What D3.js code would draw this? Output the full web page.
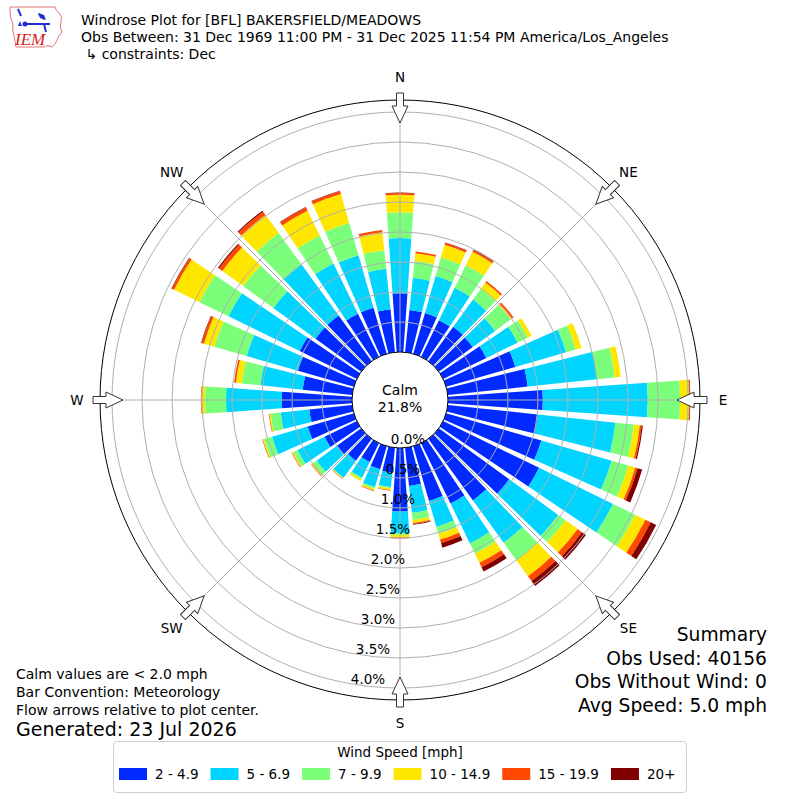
<!DOCTYPE html>
<html>
<head>
<meta charset="utf-8">
<script src="https://cdn.jsdelivr.net/npm/d3@7"></script>
<style>
  body { margin: 0; background: #fff; }
  text { font-family: "DejaVu Sans", sans-serif; fill: #000; }
</style>
</head>
<body>
<svg id="chart" width="800" height="800"></svg>
<script>
// direcciones (grados) y clases de velocidad
var directions = [0, 10, 20, 30, 40, 50, 60, 70, 80, 90, 100, 110, 120, 130, 140, 150, 160, 170,
                  180, 190, 200, 210, 220, 230, 240, 250, 260, 270, 280, 290, 300, 310, 320, 330, 340, 350];
var speedBins = ["2 - 4.9", "5 - 6.9", "7 - 9.9", "10 - 14.9", "15 - 19.9", "20+"];
var binColors = ["#002aff", "#00d4ff", "#7bff7b", "#ffe600", "#ff4800", "#800000"];

// frecuencia (%) por direccion para cada clase
var bin_2_5   = [0.98, 0.71, 0.71, 0.68, 0.71, 0.70, 0.80, 1.20, 1.34, 1.58, 1.51, 1.65, 1.78, 1.45, 1.27, 1.12, 0.95, 0.64,
                 1.06, 0.42, 0.40, 0.35, 0.45, 0.50, 0.60, 0.80, 0.72, 1.17, 0.83, 0.97, 1.06, 0.94, 0.94, 0.80, 0.80, 0.72];
var bin_5_7   = [0.92, 0.54, 0.64, 0.60, 0.56, 0.46, 0.58, 0.88, 1.16, 1.75, 1.30, 1.22, 1.37, 1.01, 0.87, 0.74, 0.45, 0.45,
                 0.36, 0.24, 0.31, 0.29, 0.35, 0.42, 0.50, 0.62, 0.48, 0.93, 0.71, 0.89, 1.32, 0.87, 1.05, 0.93, 0.91, 0.68];
var bin_7_10  = [0.43, 0.28, 0.32, 0.42, 0.22, 0.32, 0.19, 0.17, 0.30, 0.54, 0.31, 0.29, 0.41, 0.15, 0.36, 0.19, 0.12, 0.12,
                 0.03, 0.02, 0.03, 0.03, 0.01, 0.08, 0.08, 0.14, 0.17, 0.35, 0.31, 0.56, 0.54, 0.62, 0.65, 0.52, 0.56, 0.31];
var bin_10_15 = [0.29, 0.13, 0.22, 0.25, 0.13, 0.03, 0.07, 0.10, 0.10, 0.15, 0.10, 0.12, 0.19, 0.25, 0.33, 0.17, 0.10, 0.05,
                 0.04, 0.03, 0.03, 0.03, 0.01, 0.02, 0.02, 0.02, 0.02, 0.06, 0.10, 0.18, 0.47, 0.43, 0.37, 0.46, 0.50, 0.30];
var bin_15_20 = [0.03, 0.03, 0.03, 0.03, 0.03, 0.03, 0.00, 0.00, 0.00, 0.01, 0.03, 0.04, 0.10, 0.09, 0.10, 0.08, 0.06, 0.02,
                 0.02, 0.01, 0.01, 0.00, 0.01, 0.01, 0.01, 0.01, 0.01, 0.01, 0.03, 0.04, 0.04, 0.07, 0.07, 0.06, 0.05, 0.04];
var bin_20    = [0.01, 0.00, 0.01, 0.01, 0.00, 0.00, 0.00, 0.00, 0.00, 0.01, 0.02, 0.08, 0.10, 0.08, 0.10, 0.08, 0.08, 0.01,
                 0.00, 0.00, 0.00, 0.00, 0.00, 0.00, 0.00, 0.00, 0.00, 0.00, 0.00, 0.01, 0.01, 0.02, 0.02, 0.01, 0.01, 0.00];

var ringTicks = [0.0, 0.5, 1.0, 1.5, 2.0, 2.5, 3.0, 3.5, 4.0];
var calmPct = 21.8;
var compassLabels = ["N", "NE", "E", "SE", "S", "SW", "W", "NW"];
var compassAngles = [0, 45, 90, 135, 180, 225, 270, 315];

var titleLines = ["Windrose Plot for [BFL] BAKERSFIELD/MEADOWS",
                  "Obs Between: 31 Dec 1969 11:00 PM - 31 Dec 2025 11:54 PM America/Los_Angeles",
                  " \u21b3 constraints: Dec"];
var notes = ["Calm values are < 2.0 mph", "Bar Convention: Meteorology", "Flow arrows relative to plot center."];
var generated = "Generated: 23 Jul 2026";
var summary = ["Summary", "Obs Used: 40156", "Obs Without Wind: 0", "Avg Speed: 5.0 mph"];

var svg = d3.select("#chart");
var cx = 400, cy = 400;
var rad = Math.PI / 180;

// escala radial: 0 % en el borde del circulo de calma
var rScale = d3.scaleLinear().domain([0, 4.2]).range([48, 300]);

var rows = directions.map(function (d, i) {
  return { dir: d, b0: bin_2_5[i], b1: bin_5_7[i], b2: bin_7_10[i], b3: bin_10_15[i], b4: bin_15_20[i], b5: bin_20[i] };
});
var keys = ["b0", "b1", "b2", "b3", "b4", "b5"];
var stacked = d3.stack().keys(keys)(rows);

var plot = svg.append("g").attr("transform", "translate(" + cx + "," + cy + ")");

var arc = d3.arc();
var halfWidth = 4; // grados

stacked.forEach(function (layer, li) {
  plot.append("g").selectAll("path")
    .data(layer)
    .enter().append("path")
      .attr("d", function (d) {
        return arc({
          innerRadius: rScale(d[0]),
          outerRadius: rScale(d[1]),
          startAngle: (d.data.dir - halfWidth) * rad,
          endAngle: (d.data.dir + halfWidth) * rad
        });
      })
      .attr("fill", binColors[li]);
});

// rejilla
var grid = plot.append("g").attr("fill", "none").attr("stroke", "#b0b0b0").attr("stroke-width", 1);
grid.selectAll("circle")
  .data(ringTicks.filter(function (t) { return t > 0; }))
  .enter().append("circle")
    .attr("r", function (d) { return rScale(d); });
grid.selectAll("line")
  .data(compassAngles)
  .enter().append("line")
    .attr("x1", function (a) { return rScale(0) * Math.sin(a * rad); })
    .attr("y1", function (a) { return -rScale(0) * Math.cos(a * rad); })
    .attr("x2", function (a) { return rScale(4.2) * Math.sin(a * rad); })
    .attr("y2", function (a) { return -rScale(4.2) * Math.cos(a * rad); });

// borde exterior
plot.append("circle").attr("r", rScale(4.2)).attr("fill", "none").attr("stroke", "#000").attr("stroke-width", 1);

// circulo de calma
plot.append("circle").attr("r", rScale(0)).attr("fill", "#fff").attr("stroke", "#000").attr("stroke-width", 1);
plot.append("text").attr("x", 0).attr("y", -10).attr("text-anchor", "middle").attr("dominant-baseline", "central")
  .style("font-size", "14px").text("Calm");
plot.append("text").attr("x", 0).attr("y", 7).attr("text-anchor", "middle").attr("dominant-baseline", "central")
  .style("font-size", "14px").text(calmPct.toFixed(1) + "%");

// etiquetas de los anillos
plot.append("g").selectAll("text")
  .data(ringTicks)
  .enter().append("text")
    .attr("x", function (d) { return 8 - (rScale(d) - rScale(0)) / 6; })
    .attr("y", function (d) { return rScale(d) - 9; })
    .attr("text-anchor", "middle")
    .attr("dominant-baseline", "central")
    .style("font-size", "13.5px")
    .text(function (d) { return d.toFixed(1) + "%"; });

// flechas de flujo
var arrowPts = [[277, 0], [294, -8], [294, -3.5], [307, -3.5], [307, 3.5], [294, 3.5], [294, 8]];
plot.append("g").selectAll("path")
  .data(compassAngles)
  .enter().append("path")
    .attr("d", "M" + arrowPts.map(function (p) { return p.join(","); }).join("L") + "Z")
    .attr("transform", function (a) { return "rotate(" + (a - 90) + ")"; })
    .attr("fill", "#fff")
    .attr("stroke", "#333")
    .attr("stroke-width", 1);

// etiquetas cardinales
plot.append("g").selectAll("text")
  .data(compassAngles)
  .enter().append("text")
    .attr("x", function (a) { return 323 * Math.sin(a * rad); })
    .attr("y", function (a) { return -323 * Math.cos(a * rad); })
    .attr("text-anchor", "middle")
    .attr("dominant-baseline", "central")
    .style("font-size", "13.5px")
    .text(function (a, i) { return compassLabels[i]; });

// titulo
svg.append("g").selectAll("text")
  .data(titleLines)
  .enter().append("text")
    .attr("x", 81)
    .attr("y", function (d, i) { return 25 + i * 17; })
    .style("font-size", "14px")
    .style("white-space", "pre")
    .text(function (d) { return d; });

// logo IEM
var logo = svg.append("g");
logo.append("path")
  .attr("d", "M10,7 L55,7 Q56,11 59,13 Q63,17 61,22 Q59,27 62,32 Q58,36 57,40 Q56,44 52,47 Q48,44 44,47 L16,47 Q15,41 14,36 Q12,30 13,24 Q10,18 10,12 Z")
  .attr("fill", "none").attr("stroke", "#e57373").attr("stroke-width", 1);
logo.append("path")
  .attr("d", "M25,24 L50,24 M18,9 L21,16 M39,14 L44,19 M44,24 L46,32")
  .attr("fill", "none").attr("stroke", "#1f2fd0").attr("stroke-width", 2);
logo.append("path").attr("d", "M38,13 L44,15 L46,20 L40,18 Z").attr("fill", "#1f2fd0");
logo.append("path").attr("d", "M18,26 L20,21 L22,26 Z").attr("fill", "#1f2fd0");
logo.append("circle").attr("cx", 25).attr("cy", 24).attr("r", 2.5).attr("fill", "#1f2fd0");
logo.append("text").attr("x", 15).attr("y", 45)
  .style("font-family", "'Liberation Serif', serif").style("font-style", "italic")
  .style("font-size", "17px").style("fill", "#d62020").text("IEM");

// notas inferiores
svg.append("g").selectAll("text")
  .data(notes)
  .enter().append("text")
    .attr("x", 16)
    .attr("y", function (d, i) { return 679 + i * 18; })
    .style("font-size", "14px")
    .text(function (d) { return d; });
svg.append("text").attr("x", 16).attr("y", 736).style("font-size", "19px").text(generated);

// resumen
svg.append("g").selectAll("text")
  .data(summary)
  .enter().append("text")
    .attr("x", 767)
    .attr("y", function (d, i) { return 641 + i * 23.5; })
    .attr("text-anchor", "end")
    .style("font-size", "18.7px")
    .text(function (d) { return d; });

// leyenda
var legend = svg.append("g");
legend.append("rect").attr("x", 113.5).attr("y", 741.5).attr("width", 573).attr("height", 51).attr("rx", 3)
  .attr("fill", "#fff").attr("stroke", "#d0d0d0");
legend.append("text").attr("x", 400).attr("y", 757).attr("text-anchor", "middle").style("font-size", "13.5px")
  .text("Wind Speed [mph]");
var lx = 119;
speedBins.forEach(function (label, i) {
  legend.append("rect").attr("x", lx).attr("y", 768).attr("width", 28).attr("height", 12).attr("fill", binColors[i]);
  var t = legend.append("text").attr("x", lx + 36).attr("y", 779).style("font-size", "13.5px").text(label);
  lx = lx + 36 + t.node().getComputedTextLength() + 12;
});
</script>
</body>
</html>
